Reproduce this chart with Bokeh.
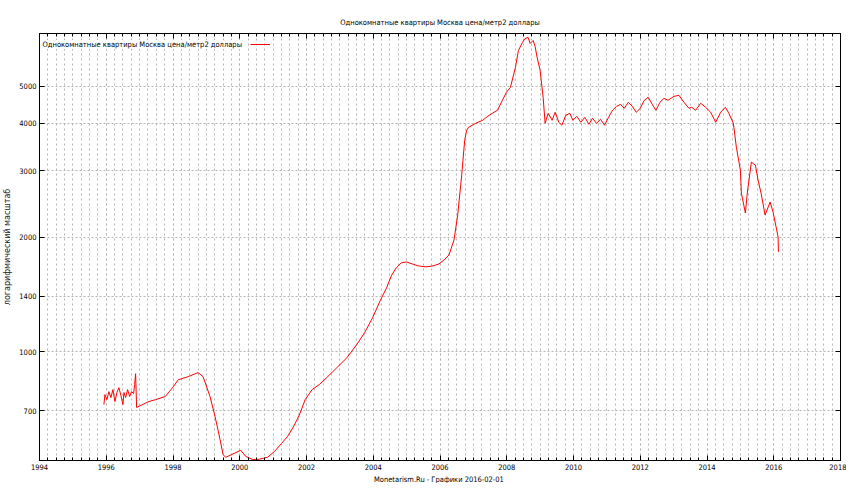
from bokeh.plotting import figure
from bokeh.models import (Range1d, LogAxis, LinearAxis, FixedTicker, SingleIntervalTicker,
                          Title, Label, Legend, LegendItem, ColumnDataSource, PrintfTickFormatter,
                          CustomLabelingPolicy)
from bokeh.embed import file_html
from bokeh.resources import INLINE

TITLE = "Однокомнатные квартиры Москва цена/метр2 доллары"
SERIES_NAME = "Однокомнатные квартиры Москва цена/метр2 доллары"
Y_LABEL = "логарифмический масштаб"
FOOTER = "Monetarism.Ru - Графики  2016-02-01"

Y_TICKS = [700, 1000, 1400, 2000, 3000, 4000, 5000]

YEARS = [
    1995.93, 1995.96, 1996.02, 1996.08, 1996.14, 1996.20, 1996.26, 1996.32, 1996.38, 1996.44,
    1996.50, 1996.53, 1996.58, 1996.64, 1996.70, 1996.76, 1996.82, 1996.85, 1996.88, 1996.91,
    1997.27, 1997.48, 1997.77, 1998.01, 1998.16, 1998.46, 1998.75, 1998.90, 1999.11, 1999.26,
    1999.41, 1999.50, 1999.58, 2000.03, 2000.18, 2000.39, 2000.59, 2000.83, 2001.04, 2001.25,
    2001.43, 2001.60, 2001.78, 2001.96, 2002.17, 2002.38, 2002.61, 2002.91, 2003.21, 2003.50,
    2003.74, 2003.98, 2004.22, 2004.40, 2004.54, 2004.69, 2004.84, 2004.99, 2005.17, 2005.35,
    2005.58, 2005.79, 2005.97, 2006.12, 2006.27, 2006.42, 2006.53, 2006.65, 2006.74, 2006.80,
    2006.86, 2007.07, 2007.28, 2007.43, 2007.57, 2007.72, 2007.87, 2007.99, 2008.11, 2008.26,
    2008.35, 2008.47, 2008.55, 2008.64, 2008.70, 2008.79, 2008.85, 2008.91, 2009.00, 2009.09,
    2009.15, 2009.24, 2009.36, 2009.45, 2009.56, 2009.65, 2009.77, 2009.89, 2009.98, 2010.10,
    2010.22, 2010.34, 2010.46, 2010.57, 2010.69, 2010.81, 2010.93, 2011.05, 2011.17, 2011.29,
    2011.41, 2011.52, 2011.64, 2011.76, 2011.88, 2012.00, 2012.12, 2012.24, 2012.36, 2012.47,
    2012.59, 2012.71, 2012.83, 2013.01, 2013.16, 2013.31, 2013.46, 2013.54, 2013.66, 2013.81,
    2013.96, 2014.11, 2014.26, 2014.41, 2014.55, 2014.64, 2014.79, 2014.88, 2015.00, 2015.03,
    2015.15, 2015.21, 2015.33, 2015.45, 2015.53, 2015.62, 2015.74, 2015.89, 2015.98, 2016.07,
    2016.13, 2016.14,
]
PRICES = [
    726, 771, 748, 785, 757, 795, 739, 781, 804, 766,
    726, 781, 757, 795, 762, 785, 776, 819, 875, 713,
    739, 748, 762, 809, 844, 860, 881, 860, 762, 675,
    587, 536, 527, 550, 530, 520, 521, 527, 546, 573,
    598, 632, 679, 748, 795, 819, 855, 908, 964, 1043,
    1122, 1229, 1370, 1473, 1584, 1663, 1714, 1724, 1703, 1683,
    1673, 1683, 1703, 1745, 1799, 1970, 2291, 2918, 3606, 3832,
    3902, 3997, 4070, 4170, 4247, 4325, 4594, 4822, 4969, 5609,
    6217, 6525, 6685, 6726, 6486, 6605, 6370, 5959, 5508, 4678,
    3997, 4247, 4070, 4273, 4021, 3949, 4196, 4247, 4070, 4170,
    4021, 4145, 3973, 4120, 3997, 4095, 3949, 4145, 4325, 4430,
    4484, 4377, 4539, 4430, 4273, 4377, 4594, 4678, 4484, 4325,
    4539, 4650, 4594, 4706, 4735, 4539, 4377, 4404, 4325, 4512,
    4404, 4273, 4021, 4273, 4404, 4273, 3997, 3457, 3008, 2617,
    2319, 2633, 3157, 3100, 2831, 2617, 2291, 2478, 2333, 2131,
    2006, 1832,
]

FONT = "DejaVu Sans Condensed"
FS = "7.5px"
GRID = "#b4b4b4"

src = ColumnDataSource(data=dict(year=YEARS, price=PRICES))

p = figure(width=846, height=483, x_range=Range1d(1994, 2018), y_range=Range1d(517, 6890),
           y_axis_type="log", output_backend="svg", toolbar_location=None,
           min_border_left=32, min_border_right=6, min_border_top=33, min_border_bottom=22,
           background_fill_color="white", border_fill_color="white")

p.outline_line_color = "black"
p.outline_line_width = 1

# title
p.title.text = TITLE
p.title.align = "center"
p.title.text_font = FONT
p.title.text_font_size = FS
p.title.text_font_style = "normal"
p.title.text_color = "black"
p.title.standoff = 6

# x axis
xt = SingleIntervalTicker(interval=2, num_minor_ticks=8)
p.xaxis.ticker = xt
for ax in p.xaxis:
    ax.major_label_text_font = FONT
    ax.major_label_text_font_size = FS
    ax.major_label_text_color = "black"
    ax.major_label_standoff = 3
    ax.major_tick_in = 5
    ax.major_tick_out = 0
    ax.minor_tick_in = 3
    ax.minor_tick_out = 0
    ax.axis_line_color = "black"
    ax.major_tick_line_color = "black"
    ax.minor_tick_line_color = "black"

# y axis
yt = FixedTicker(ticks=Y_TICKS)
p.yaxis.ticker = yt
p.yaxis.formatter = PrintfTickFormatter(format="%d")
for ax in p.yaxis:
    ax.major_label_text_font = FONT
    ax.major_label_text_font_size = FS
    ax.major_label_text_color = "black"
    ax.major_label_standoff = 3
    ax.major_tick_in = 5
    ax.major_tick_out = 0
    ax.minor_tick_in = 0
    ax.minor_tick_out = 0
    ax.axis_line_color = "black"
    ax.axis_label = Y_LABEL
    ax.axis_label_text_font = "DejaVu Sans"
    ax.axis_label_text_font_size = "8px"
    ax.axis_label_text_font_style = "normal"
    ax.axis_label_text_color = "#222222"
    ax.axis_label_standoff = 4

# mirrored tick marks (top/right) with no labels drawn
hide_all = "const ids = [...indices]; for (const i of ids) indices.unset(i); return indices"
top = LinearAxis(ticker=SingleIntervalTicker(interval=2, num_minor_ticks=8),
                 major_label_policy=CustomLabelingPolicy(code=hide_all),
                 major_label_text_font_size="1px", major_label_standoff=0,
                 major_tick_in=5, major_tick_out=0, minor_tick_in=3, minor_tick_out=0,
                 axis_line_color="black")
p.add_layout(top, "above")
right = LogAxis(ticker=FixedTicker(ticks=Y_TICKS),
                major_label_policy=CustomLabelingPolicy(code=hide_all),
                major_label_text_font_size="1px",
                major_label_standoff=0, major_tick_in=5, major_tick_out=0,
                minor_tick_in=0, minor_tick_out=0, axis_line_color="black")
p.add_layout(right, "right")

# grids
p.xgrid.ticker = xt
p.xgrid.grid_line_color = GRID
p.xgrid.grid_line_dash = "2 3"
p.xgrid.minor_grid_line_color = GRID
p.xgrid.minor_grid_line_dash = "2 3"
p.ygrid.ticker = yt
p.ygrid.grid_line_color = GRID
p.ygrid.grid_line_dash = "2 2"

# footer
p.add_layout(Title(text=FOOTER, align="center", text_font=FONT, text_font_size=FS,
                   text_font_style="normal", text_color="black", standoff=0), "below")

r = p.line(x="year", y="price", source=src, line_color="#ff0000", line_width=1)

# key (gnuplot style: text then sample)
key_text = Label(x=3, y=416, x_units="screen", y_units="screen", text=SERIES_NAME,
                 text_font=FONT, text_font_size=FS, text_color="black",
                 text_baseline="middle", background_fill_color="white")
p.add_layout(key_text)
leg = Legend(items=[LegendItem(label=" ", renderers=[r])], location=(211, 411),
             padding=0, margin=0, spacing=0, glyph_width=20, glyph_height=10,
             label_standoff=0, label_text_font_size="8px",
             background_fill_alpha=0, border_line_color=None)
p.add_layout(leg)

open("out.html", "w").write(file_html(p, INLINE))
